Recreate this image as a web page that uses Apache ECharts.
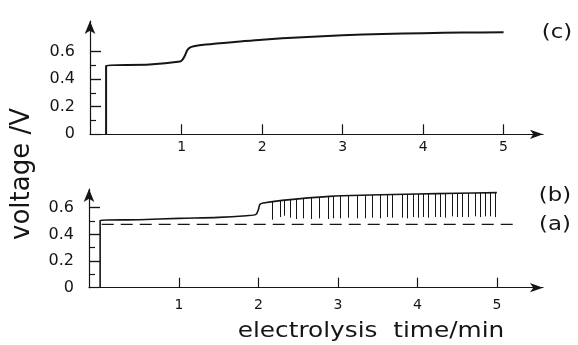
<!DOCTYPE html>
<html>
<head>
<meta charset="utf-8">
<script src="https://cdn.jsdelivr.net/npm/echarts@6/dist/echarts.min.js"></script>
<style>html,body{margin:0;padding:0;background:#fff}#c{width:578px;height:345px}</style>
</head>
<body>
<div id="c"></div>
<script>
// ---- data ----
const timeTicks = [1, 2, 3, 4, 5];
const voltLabels = [0, 0.2, 0.4, 0.6];
const voltMajorTicks = [0.2, 0.4, 0.6];
const voltMinorTicks = [0.1, 0.3, 0.5];

// curve (c)
const cTime = [0.06, 0.06, 0.6, 0.98, 1.01, 1.04, 1.07, 1.1, 1.15, 1.3, 1.73, 2.0, 2.5, 3.0, 3.5, 4.0, 4.5, 5.0];
const cVolt = [0, 0.497, 0.505, 0.527, 0.54, 0.57, 0.61, 0.628, 0.638, 0.65, 0.672, 0.685, 0.703, 0.717, 0.726, 0.732, 0.736, 0.738];

// curve (b)
const bTime = [0.01, 0.01, 0.5, 1.0, 1.5, 1.85, 1.97, 2.0, 2.02, 2.06, 2.3, 2.9, 3.4, 4.0, 4.5, 5.0];
const bVolt = [0, 0.505, 0.51, 0.52, 0.527, 0.54, 0.55, 0.585, 0.625, 0.635, 0.655, 0.685, 0.695, 0.703, 0.708, 0.713];

// spikes on (b)
const spikeTimes = [2.18, 2.27, 2.33, 2.40, 2.48, 2.56, 2.67, 2.77, 2.88, 2.94, 3.03, 3.13, 3.24, 3.34, 3.43, 3.53, 3.62, 3.69, 3.81, 3.87, 3.95, 4.01, 4.07, 4.14, 4.22, 4.29, 4.35, 4.44, 4.50, 4.56, 4.64, 4.73, 4.79, 4.85, 4.92, 4.98];
const spikeTops = [0.648, 0.655, 0.658, 0.662, 0.666, 0.669, 0.674, 0.678, 0.684, 0.686, 0.688, 0.69, 0.692, 0.694, 0.695, 0.697, 0.698, 0.699, 0.7, 0.701, 0.702, 0.703, 0.703, 0.704, 0.705, 0.705, 0.706, 0.707, 0.708, 0.708, 0.709, 0.71, 0.711, 0.711, 0.712, 0.713];
const spikeBottoms = [0.51, 0.53, 0.54, 0.525, 0.515, 0.52, 0.515, 0.52, 0.515, 0.52, 0.52, 0.525, 0.52, 0.52, 0.525, 0.52, 0.53, 0.525, 0.525, 0.52, 0.53, 0.525, 0.53, 0.525, 0.53, 0.53, 0.525, 0.535, 0.53, 0.53, 0.53, 0.535, 0.53, 0.535, 0.535, 0.53];

// level (a)
const aTime = [0.03, 5.26];
const aVolt = [0.475, 0.475];

const panelLabels = ['(c)', '(b)', '(a)'];
const yTitle = 'voltage /V';
const xTitle = 'electrolysis  time/min';

// ---- chart ----
const FONT = 'DejaVu Sans';
const INK = '#151515';
const chart = echarts.init(document.getElementById('c'), null, {renderer: 'canvas'});

function pairs(xs, ys) { return xs.map((x, i) => [x, ys[i]]); }

function xAxisCfg(grid, min, max, margin) {
  return {
    type: 'value', gridIndex: grid, min: min, max: max,
    splitLine: {show: false},
    axisLine: {onZero: false, symbol: ['none', 'arrow'], symbolSize: [7, 13], lineStyle: {color: INK, width: 1.2}},
    axisTick: {inside: true, length: 10, customValues: timeTicks, lineStyle: {color: INK, width: 1.2}},
    axisLabel: {customValues: timeTicks, margin: margin, fontFamily: FONT, fontSize: 14, color: INK}
  };
}
function yAxisCfg(grid, max) {
  return {
    type: 'value', gridIndex: grid, min: 0, max: max, position: 'left', offset: 0,
    splitLine: {show: false},
    axisLine: {onZero: false, symbol: ['none', 'arrow'], symbolSize: [8, 13], lineStyle: {color: INK, width: 1.2}},
    axisTick: {inside: true, length: 11, customValues: voltLabels, lineStyle: {color: INK, width: 1.2}},
    axisLabel: {customValues: voltLabels, margin: 15, fontFamily: FONT, fontSize: 16, color: INK,
      formatter: v => (v === 0 ? '0' : v.toFixed(1))}
  };
}
function yTickCfg(grid, max, ticks, len) {
  return {
    type: 'value', gridIndex: grid, min: 0, max: max, position: 'left', offset: 0,
    splitLine: {show: false},
    axisLine: {show: false, onZero: false},
    axisTick: {inside: true, length: len, customValues: ticks, lineStyle: {color: INK, width: 1.2}},
    axisLabel: {show: false}
  };
}

const option = {
  animation: false,
  backgroundColor: '#fff',
  grid: [
    {left: 90, top: 21, width: 453, height: 113.3},
    {left: 89, top: 189, width: 454, height: 98.7}
  ],
  xAxis: [xAxisCfg(0, -0.14, 5.49, 6), xAxisCfg(1, -0.13, 5.58, 11)],
  yAxis: [
    yAxisCfg(0, 0.82), yTickCfg(0, 0.82, voltMinorTicks, 6), yTickCfg(0, 0.82, voltMajorTicks, 11),
    yAxisCfg(1, 0.74), yTickCfg(1, 0.74, voltMinorTicks, 6), yTickCfg(1, 0.74, voltMajorTicks, 11)
  ],
  series: [
    {type: 'line', xAxisIndex: 0, yAxisIndex: 0, data: pairs(cTime, cVolt), showSymbol: false, smooth: 0.3,
      lineStyle: {color: INK, width: 2}},
    {type: 'line', xAxisIndex: 1, yAxisIndex: 3, data: pairs(bTime, bVolt), showSymbol: false, smooth: 0.3,
      lineStyle: {color: INK, width: 1.6},
      markLine: {silent: true, symbol: ['none', 'none'], label: {show: false},
        lineStyle: {color: INK, width: 1, type: 'solid'},
        data: spikeTimes.map((t, i) => [{coord: [t, spikeTops[i]]}, {coord: [t, spikeBottoms[i]]}])}},
    {type: 'line', xAxisIndex: 1, yAxisIndex: 3, data: pairs(aTime, aVolt), showSymbol: false,
      lineStyle: {color: INK, width: 1.2, type: [12, 7]}}
  ],
  graphic: [
    {type: 'text', x: 22, y: 174, rotation: Math.PI / 2,
      style: {text: yTitle, x: 0, y: 0, align: 'center', verticalAlign: 'middle', font: '26px "DejaVu Sans"', fill: INK}},
    {type: 'text', x: 371, y: 332, scaleX: 1.18,
      style: {text: xTitle, x: 0, y: 0, align: 'center', verticalAlign: 'middle', font: '21px "DejaVu Sans"', fill: INK}},
    {type: 'text', x: 557, y: 33, scaleX: 1.2,
      style: {text: panelLabels[0], x: 0, y: 0, align: 'center', verticalAlign: 'middle', font: '19px "DejaVu Sans"', fill: INK}},
    {type: 'text', x: 555, y: 196, scaleX: 1.2,
      style: {text: panelLabels[1], x: 0, y: 0, align: 'center', verticalAlign: 'middle', font: '19px "DejaVu Sans"', fill: INK}},
    {type: 'text', x: 555, y: 225, scaleX: 1.2,
      style: {text: panelLabels[2], x: 0, y: 0, align: 'center', verticalAlign: 'middle', font: '19px "DejaVu Sans"', fill: INK}}
  ]
};
chart.setOption(option);
</script>
</body>
</html>
